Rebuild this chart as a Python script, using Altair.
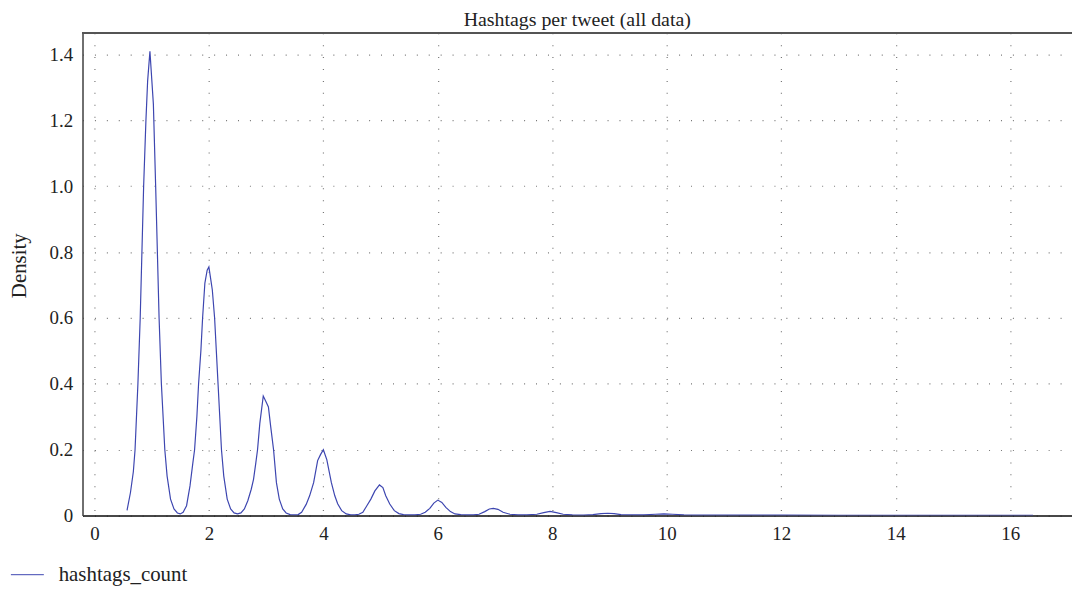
import altair as alt
import pandas as pd

# Density curve points (x = hashtags per tweet, y = density)
xs = [
    0.57, 0.63, 0.68, 0.71, 0.76, 0.80, 0.83, 0.86, 0.90, 0.93, 0.97, 1.03, 1.07, 1.10, 1.13, 1.17, 1.23, 1.27, 1.33, 1.39, 1.45, 1.50,
    1.55, 1.61, 1.67, 1.72, 1.75, 1.79, 1.82, 1.86, 1.89, 1.93, 1.97, 2.00, 2.03, 2.06, 2.10, 2.13, 2.16, 2.19, 2.22, 2.26, 2.32, 2.38, 2.44, 2.50,
    2.56, 2.62, 2.68, 2.74, 2.78, 2.82, 2.85, 2.89, 2.95, 3.00, 3.04, 3.08, 3.13, 3.18, 3.23, 3.29, 3.35, 3.42, 3.50,
    3.56, 3.62, 3.70, 3.76, 3.83, 3.90, 3.95, 4.00, 4.06, 4.14, 4.20, 4.25, 4.32, 4.40, 4.48,
    4.55, 4.62, 4.69, 4.76, 4.83, 4.90, 4.98, 5.04, 5.09, 5.16, 5.24, 5.32, 5.40, 5.50,
    5.60, 5.70, 5.78, 5.86, 5.93, 6.00, 6.07, 6.14, 6.22, 6.30, 6.40, 6.50,
    6.62, 6.72, 6.82, 6.90, 6.97, 7.05, 7.14, 7.26, 7.40,
    7.55, 7.73, 7.85, 7.96, 8.07, 8.19, 8.35,
    8.55, 8.71, 8.85, 8.97, 9.08, 9.20, 9.40,
    9.60, 9.80, 9.95, 10.10, 10.30, 10.50,
    11.0, 12.0, 13.0, 14.0, 15.0, 16.0, 16.4,
]
ys = [
    0.016, 0.07, 0.133, 0.2, 0.4, 0.6, 0.8, 1.0, 1.2, 1.32, 1.41, 1.25, 1.0, 0.8, 0.6, 0.4, 0.2, 0.12, 0.05, 0.02, 0.008, 0.005,
    0.01, 0.03, 0.09, 0.16, 0.2, 0.3, 0.4, 0.5, 0.6, 0.706, 0.745, 0.755, 0.72, 0.685, 0.6, 0.5, 0.4, 0.3, 0.2, 0.12, 0.05, 0.02, 0.008, 0.005,
    0.008, 0.02, 0.045, 0.08, 0.11, 0.16, 0.2, 0.28, 0.363, 0.345, 0.33, 0.27, 0.2, 0.1, 0.05, 0.02, 0.008, 0.003, 0.002,
    0.003, 0.01, 0.034, 0.06, 0.1, 0.167, 0.185, 0.2, 0.17, 0.1, 0.06, 0.036, 0.015, 0.005, 0.002,
    0.002, 0.004, 0.01, 0.03, 0.05, 0.075, 0.093, 0.085, 0.06, 0.035, 0.015, 0.006, 0.003, 0.002,
    0.002, 0.004, 0.01, 0.022, 0.038, 0.047, 0.04, 0.025, 0.012, 0.005, 0.003, 0.002,
    0.002, 0.004, 0.012, 0.02, 0.022, 0.019, 0.01, 0.004, 0.002,
    0.002, 0.004, 0.009, 0.013, 0.009, 0.004, 0.002,
    0.0015, 0.003, 0.006, 0.007, 0.006, 0.003, 0.002,
    0.002, 0.004, 0.005, 0.004, 0.002, 0.0015,
    0.0015, 0.0015, 0.001, 0.001, 0.001, 0.001, 0.001,
]
series_name = "hashtags_count"
x_ticks = [0, 2, 4, 6, 8, 10, 12, 14, 16]
y_ticks = [0, 0.2, 0.4, 0.6, 0.8, 1.0, 1.2, 1.4]

df = pd.DataFrame({"x": xs, "y": ys, "series": series_name})

FONT = "Liberation Serif"
W, H = 996, 486
LINE = "#3D46B0"
GRID = "#777777"

line = alt.Chart(df).mark_line(strokeWidth=1.2, clip=True).encode(
    x=alt.X("x:Q", scale=alt.Scale(domain=[-0.208, 17.08], nice=False, zero=False),
            axis=alt.Axis(values=x_ticks, title=None, ticks=False, labelPadding=9,
                          labelFontSize=19, labelFont=FONT, labelColor="#222",
                          grid=True, gridDash=[1, 11], gridColor=GRID, gridWidth=1.2,
                          domainColor="#111", domainWidth=1.5, labelFlush=False)),
    y=alt.Y("y:Q", scale=alt.Scale(domain=[0, 1.466], nice=False),
            axis=alt.Axis(values=y_ticks, title="Density", ticks=False, labelPadding=10,
                          labelFontSize=19, labelFont=FONT, labelColor="#222",
                          labelExpr="datum.value == 0 ? '0' : format(datum.value, '.1f')",
                          titleFont=FONT, titleFontSize=21, titleFontWeight="normal",
                          titleColor="#222", titleX=-63, titleY=234, titleAngle=270,
                          titleAlign="center", titleBaseline="middle",
                          grid=True, gridDash=[1, 11], gridColor=GRID, gridWidth=1.2,
                          domainColor="#444", domainWidth=1.5, labelFlush=False)),
    color=alt.Color("series:N", scale=alt.Scale(domain=[series_name], range=[LINE]),
                    legend=alt.Legend(title=None, orient="none", legendX=-73, legendY=528,
                                      symbolType="stroke", symbolSize=1100, symbolStrokeWidth=1,
                                      labelFont=FONT, labelFontSize=21, labelColor="#222",
                                      labelOffset=14)),
)

top_rule = alt.Chart(df).mark_rule(color="#555", strokeWidth=1.5).encode(
    x=alt.value(0), x2=alt.value(W), y=alt.value(0)
)

chart = alt.layer(line, top_rule).properties(
    width=W, height=H,
    title=alt.Title("Hashtags per tweet (all data)", font=FONT, fontSize=20,
                    fontWeight="normal", color="#222", offset=2, anchor="middle"),
    autosize=alt.AutoSizeParams(type="none"),
    padding={"left": 75, "top": 23, "right": 0, "bottom": 74},
).configure_view(stroke=None).configure(background="white")

chart.save("out.html", embed_options={"renderer": "svg", "actions": False})
